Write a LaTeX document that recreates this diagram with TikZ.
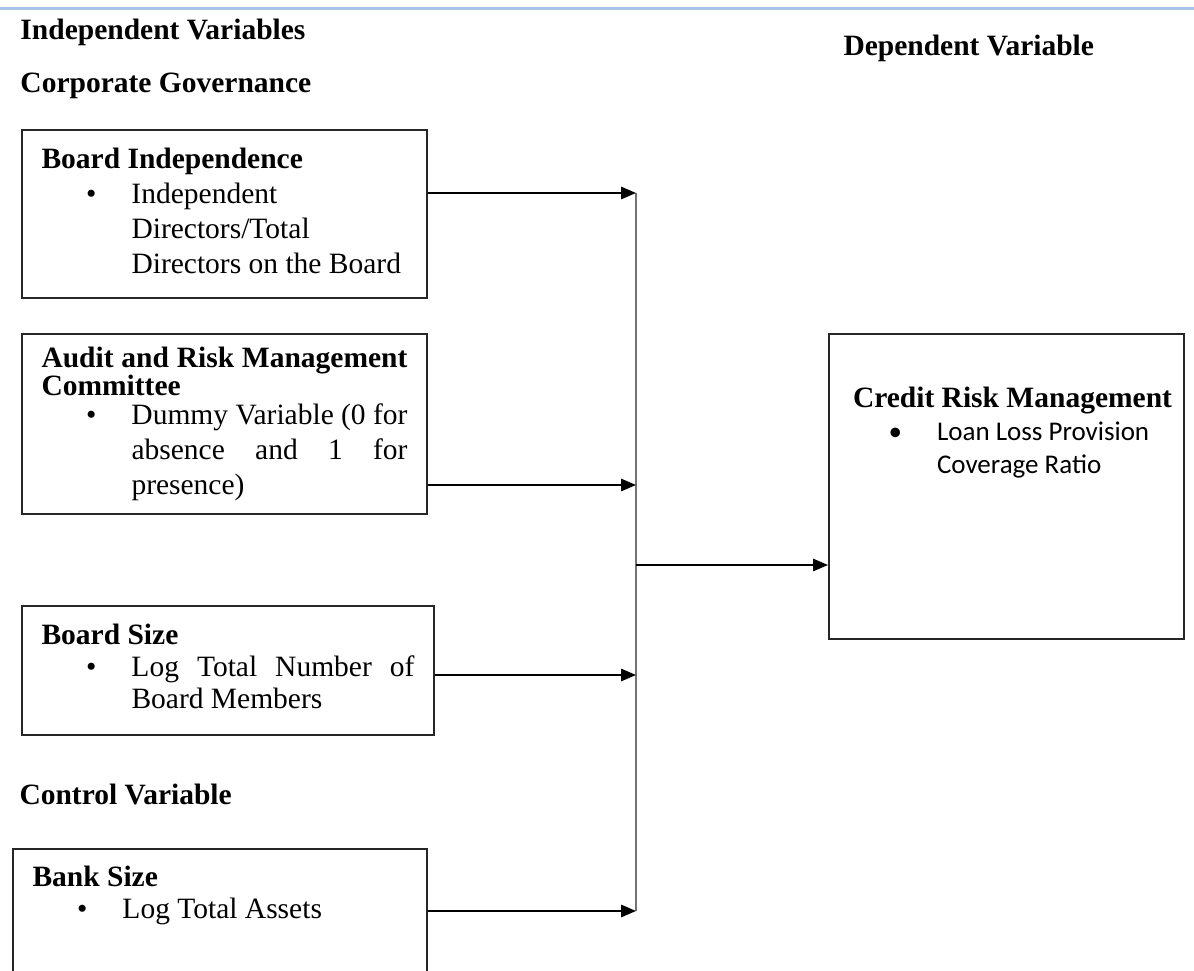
\documentclass[tikz,border=0pt]{standalone}
\usepackage{fontspec}
\setmainfont{Liberation Serif}
\newfontfamily\calibrifont{Carlito}
\usetikzlibrary{arrows.meta}
\definecolor{headrule}{RGB}{168,196,232}
\tolerance=10000
\hbadness=10000
\newcommand{\bitem}[2][36pt]{\par{\leftskip=#1\noindent\llap{\textbullet\hspace{14pt}}#2\par}}

\begin{document}
\begin{tikzpicture}[x=0.4pt, y=-0.4pt, font=\fontsize{11.8}{14}\selectfont,
	varbox/.style={draw=black!85, line width=0.8pt, anchor=north west, inner xsep=7.8pt, inner ysep=0pt, align=justify},
	head/.style={anchor=base west, inner sep=0pt, font=\fontsize{11.8}{14}\selectfont\bfseries},
	flow/.style={line width=0.6pt, -{Triangle[length=6pt,width=5pt]}},
	bus/.style={line width=0.9pt, black!55}]
				\useasboundingbox (0,0) rectangle (1194,971);
				\clip (0,0) rectangle (1194,971);
				
				% Top rule
				\draw[headrule, line width=1.2pt] (0,9) -- (1194,9);
				
				% Group headings
				\node[head] (indep) at (20,40) {Independent Variables};
				\node[head] (corpgov) at (20,93) {Corporate Governance};
				\node[head] (depvar) at (843,56) {Dependent Variable};
				\node[head] (ctrlvar) at (19,805) {Control Variable};
				
				% Variable boxes
				\node[varbox, text width=146.4pt, minimum height=67.2pt] (bind) at (21,129)
					{\textbf{Board Independence}
					\bitem{Independent\\ Directors/Total\\ Directors on the Board}
					\vspace{2.4pt}\hrule height 0pt};
				\node[varbox, text width=146.4pt, minimum height=72pt] (audit) at (21,333)
					{{\baselineskip=11.4pt\textbf{Audit and Risk Management\linebreak Committee}\par}
					\vspace{-2.4pt}
					\bitem{Dummy Variable (0 for\linebreak absence and 1 for\linebreak presence)}};
				\node[varbox, text width=149.2pt, minimum height=51.6pt, font=\fontsize{11.8}{12.8}\selectfont] (bsize) at (21,605)
					{\textbf{Board Size}
					\bitem{Log Total Number of\linebreak Board Members}
					\vspace{3.5pt}\hrule height 0pt};
				\node[varbox, text width=150pt, minimum height=56pt, font=\fontsize{11.8}{12.8}\selectfont] (banksize) at (12,848)
					{\textbf{Bank Size}
					\bitem{Log Total Assets}
					\vspace{19pt}\hrule height 0pt};
				
				% Dependent variable box
				\node[varbox, text width=122.8pt, inner xsep=9.6pt, minimum height=122pt] (crm) at (828,333)
					{\makebox[\linewidth][l]{\textbf{Credit Risk Management}}\par
					{\calibrifont\fontsize{10.8}{13.2}\selectfont\bitem[33.6pt]{Loan Loss Provision\\ Coverage Ratio}}
					\vspace{43pt}\hrule height 0pt};
				
				% Junctions on the collecting line
				\coordinate (j1) at (636,193);
				\coordinate (j2) at (636,485);
				\coordinate (j3) at (636,675);
				\coordinate (j4) at (636,911);
				\coordinate (jm) at (636,565);
				
				% Collecting line and arrows
				\draw[bus] (j1) -- (j4);
				\draw[flow] (bind.east |- j1) -- (j1);
				\draw[flow] (audit.east |- j2) -- (j2);
				\draw[flow] (bsize.east |- j3) -- (j3);
				\draw[flow] (banksize.east |- j4) -- (j4);
				\draw[flow] (jm) -- (crm.west |- jm);
				
			\end{tikzpicture}
\end{document}
